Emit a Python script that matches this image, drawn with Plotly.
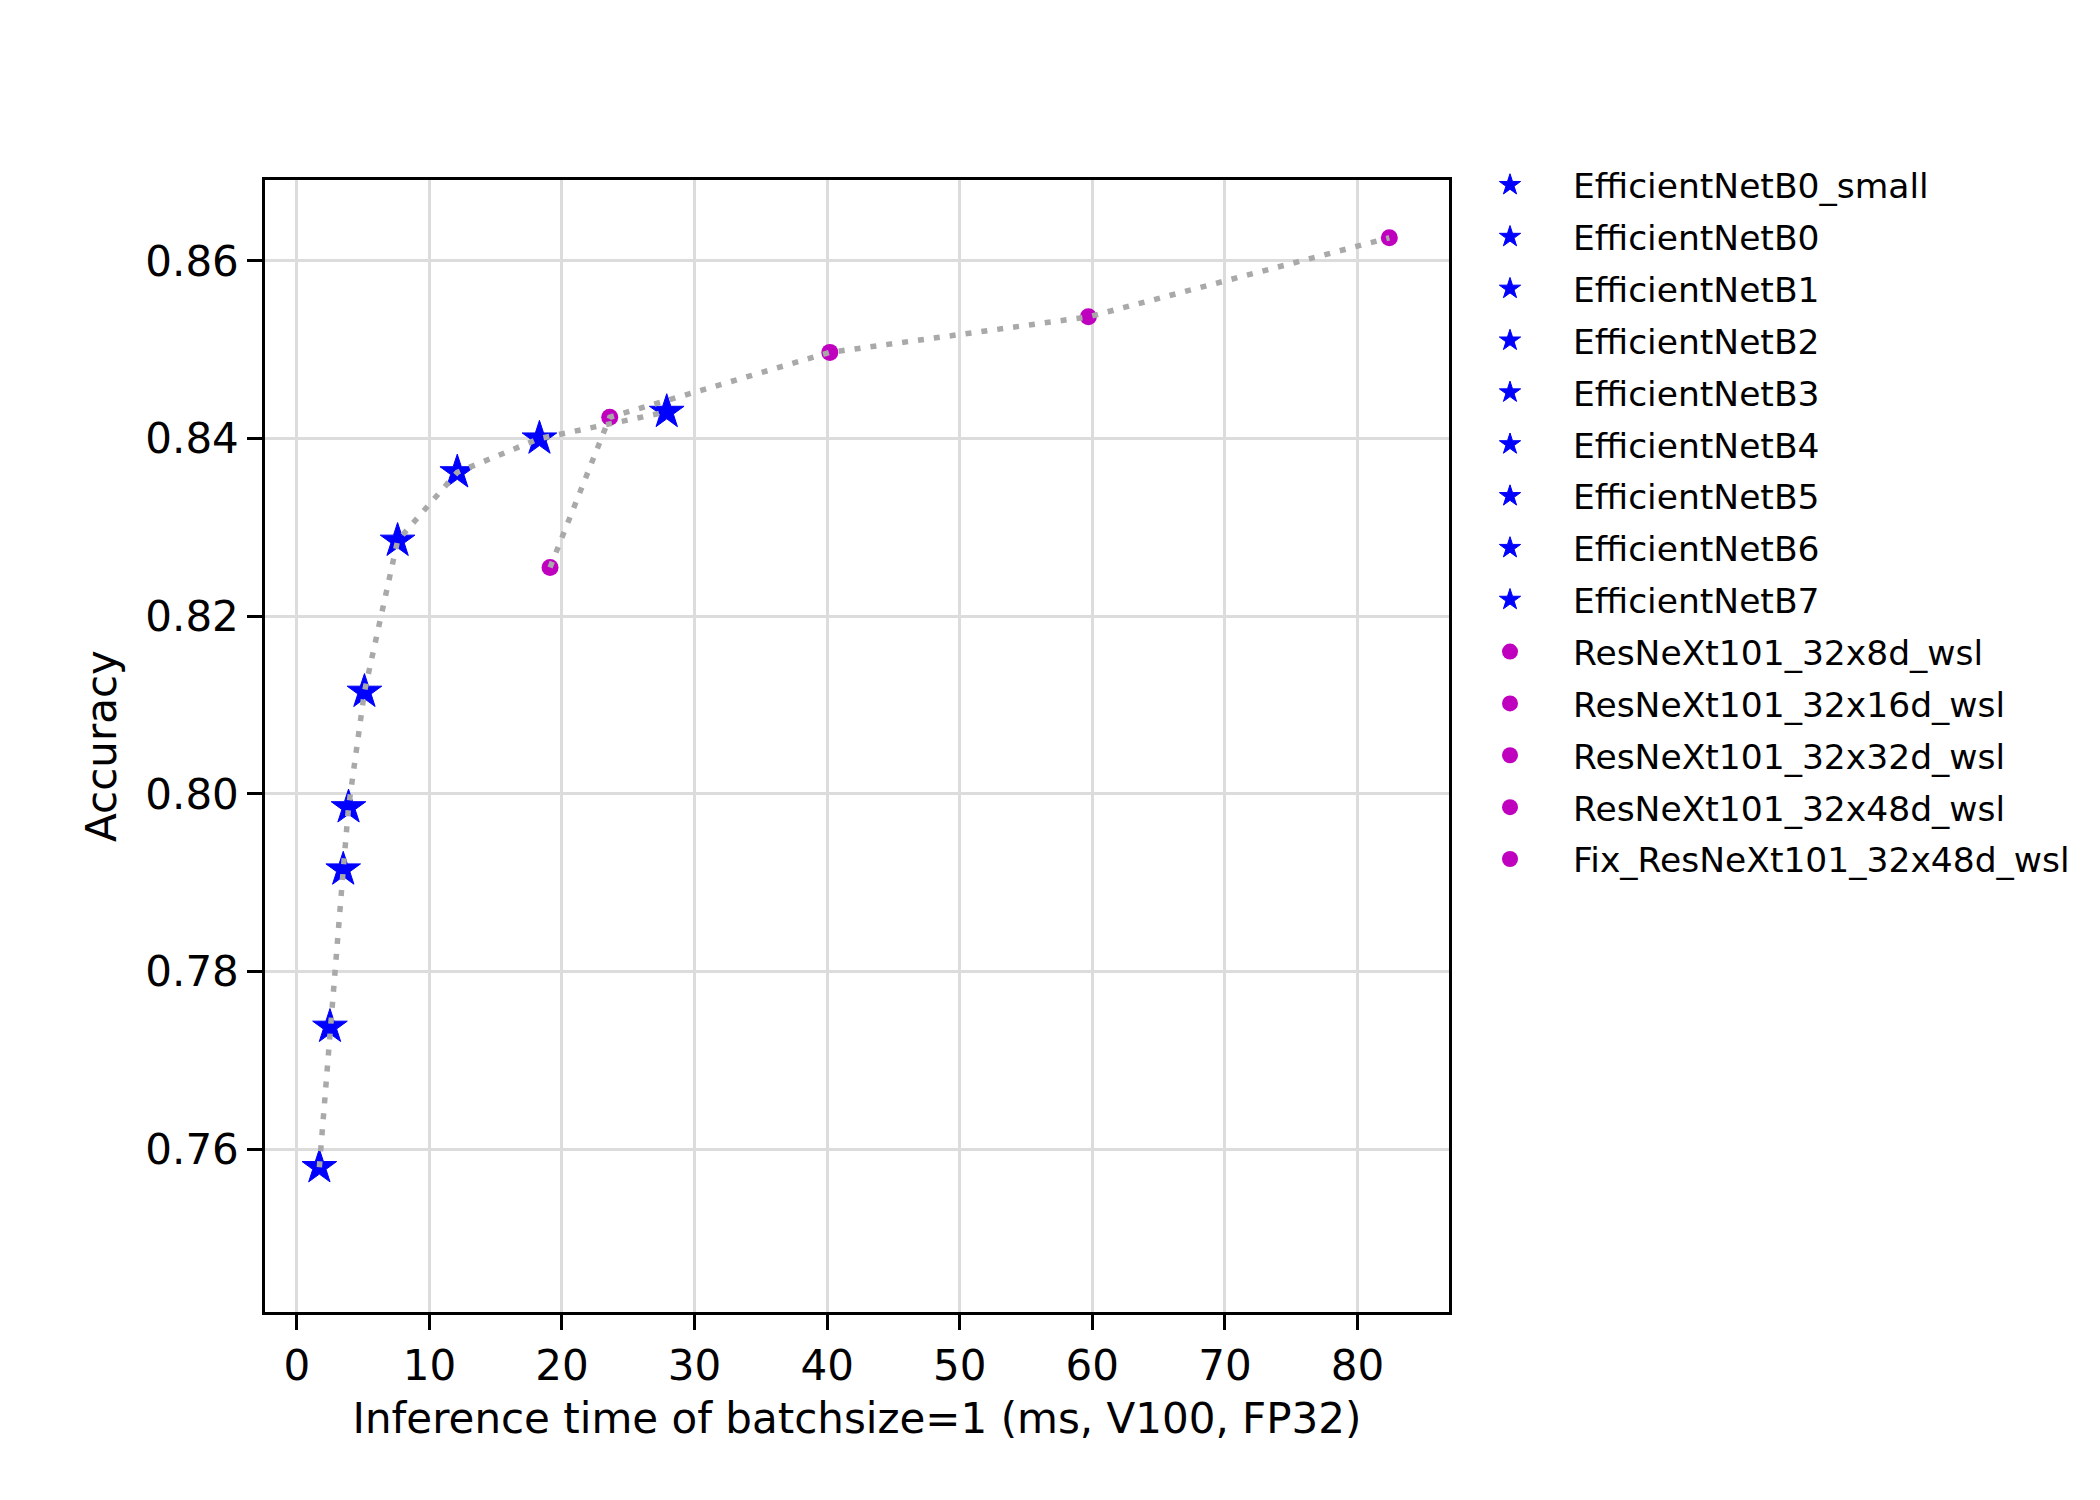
import plotly.graph_objects as go

eff_names = ["EfficientNetB0_small", "EfficientNetB0", "EfficientNetB1", "EfficientNetB2",
             "EfficientNetB3", "EfficientNetB4", "EfficientNetB5", "EfficientNetB6", "EfficientNetB7"]
eff_time = [1.7, 2.5, 3.5, 3.9, 5.1, 7.6, 12.1, 18.3, 27.9]
eff_acc = [0.7580, 0.7738, 0.7915, 0.7985, 0.8115, 0.8285, 0.8362, 0.8400, 0.8430]

res_names = ["ResNeXt101_32x8d_wsl", "ResNeXt101_32x16d_wsl", "ResNeXt101_32x32d_wsl",
             "ResNeXt101_32x48d_wsl", "Fix_ResNeXt101_32x48d_wsl"]
res_time = [19.1, 23.6, 40.2, 59.7, 82.4]
res_acc = [0.8255, 0.8424, 0.8497, 0.8537, 0.8626]

x_ticks = [0, 10, 20, 30, 40, 50, 60, 70, 80]
y_ticks = [0.76, 0.78, 0.80, 0.82, 0.84, 0.86]

BLUE = "#0000ff"
MAGENTA = "#bf00bf"
LINE = "#a9a9a9"
FONT = "DejaVu Sans"

fig = go.Figure()

for i, (n, t, a) in enumerate(zip(eff_names, eff_time, eff_acc)):
    fig.add_trace(go.Scatter(
        x=[t], y=[a], mode="markers", name=n, legendgroup="g%d" % i,
        marker=dict(symbol="star", size=26, color=BLUE, line=dict(width=1, color=BLUE)),
    ))
for j, (n, t, a) in enumerate(zip(res_names, res_time, res_acc)):
    fig.add_trace(go.Scatter(
        x=[t], y=[a], mode="markers", name=n, legendgroup="h%d" % j,
        marker=dict(symbol="circle", size=17, color=MAGENTA, line=dict(width=0)),
    ))

fig.add_trace(go.Scatter(x=eff_time, y=eff_acc, mode="lines", showlegend=False,
                         line=dict(color=LINE, width=5.5, dash="6px,10px")))
fig.add_trace(go.Scatter(x=res_time, y=res_acc, mode="lines", showlegend=False,
                         line=dict(color=LINE, width=5.5, dash="6px,10px")))

axis_common = dict(
    showline=True, mirror=True, linecolor="black", linewidth=3.3,
    ticks="outside", ticklen=14.6, tickwidth=3.3, tickcolor="black",
    showgrid=True, gridcolor="#dcdcdc", gridwidth=3,
    zeroline=False,
    tickfont=dict(family=FONT, size=42, color="black"),
)

fig.update_xaxes(
    range=[-2.4, 86.9], tickvals=x_ticks,
    title=dict(text="Inference time of batchsize=1 (ms, V100, FP32)",
               font=dict(family=FONT, size=42, color="black"), standoff=15),
    **axis_common,
)
fig.update_yaxes(
    range=[0.7417, 0.8691], tickvals=y_ticks, tickformat=".2f",
    title=dict(text="Accuracy", font=dict(family=FONT, size=42, color="black"), standoff=16),
    **axis_common,
)

fig.update_layout(
    width=2100, height=1500,
    margin=dict(l=265, r=651, t=180, b=188, autoexpand=False),
    paper_bgcolor="white", plot_bgcolor="white",
    font=dict(family=FONT, color="black"),
    legend=dict(
        xref="container", yref="container",
        x=1447 / 2100, y=1 - 156 / 1500, xanchor="left", yanchor="top",
        font=dict(family=FONT, size=34.5, color="black"),
        tracegroupgap=4, itemwidth=116, maxheight=1400,
        bgcolor="rgba(0,0,0,0)",
    ),
)

fig.write_html("out.html")
